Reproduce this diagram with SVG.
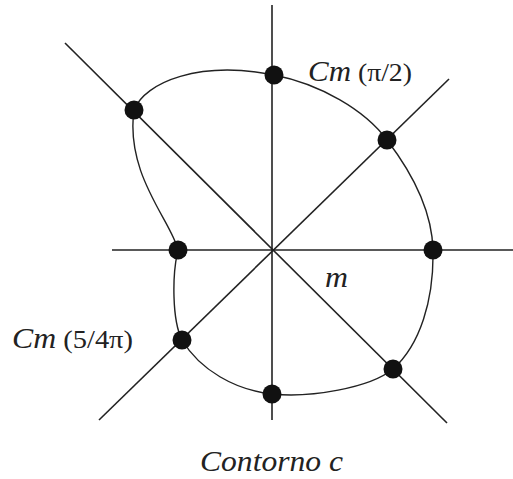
<svg xmlns="http://www.w3.org/2000/svg" width="513" height="479" viewBox="0 0 513 479">
<style>
.ax{stroke:#222;stroke-width:1.6;fill:none}
.cv{stroke:#222;stroke-width:1.4;fill:none}
.dot{fill:#111}
.t{font-family:"Liberation Serif",serif;fill:#222}
.i{font-style:italic}
</style>
<rect width="513" height="479" fill="#fff"/>
<g id="connectors">
<line class="ax" x1="272" y1="5" x2="272" y2="420"/>
<line class="ax" x1="112" y1="250" x2="513" y2="250"/>
<line class="ax" x1="65" y1="43" x2="447" y2="423"/>
<line class="ax" x1="449" y1="79" x2="99" y2="420"/>
<path id="contour" class="cv" d="M134,110 C145,82 200,60 274,75 C320,84 365,110 387,140 C410,170 432,210 433,250 C434,300 420,345 393,369 C370,388 310,398 272,394 C235,390 200,370 182,340 C172,320 172,275 178,250 C172,222 125,175 134,110 Z"/>
</g>
<g id="n_top"><circle class="dot" cx="274" cy="75" r="9.5"/></g>
<g id="n_nw"><circle class="dot" cx="134" cy="110" r="9.5"/></g>
<g id="n_ne"><circle class="dot" cx="387" cy="140" r="9.5"/></g>
<g id="n_w"><circle class="dot" cx="178" cy="250" r="9.5"/></g>
<g id="n_e"><circle class="dot" cx="433" cy="250" r="9.5"/></g>
<g id="n_sw"><circle class="dot" cx="182" cy="340" r="9.5"/></g>
<g id="n_se"><circle class="dot" cx="393" cy="369" r="9.5"/></g>
<g id="n_s"><circle class="dot" cx="272" cy="394" r="9.5"/></g>
<g id="labels">
<text class="t" x="308" y="81" font-size="26" textLength="104" lengthAdjust="spacingAndGlyphs"><tspan class="i" font-size="29">Cm</tspan> (π/2)</text>
<text class="t" x="12" y="348" font-size="26" textLength="121" lengthAdjust="spacingAndGlyphs"><tspan class="i" font-size="29">Cm</tspan> (5/4π)</text>
<text class="t i" x="325" y="287" font-size="30" textLength="23" lengthAdjust="spacingAndGlyphs">m</text>
<text class="t i" x="200" y="471" font-size="29" textLength="143" lengthAdjust="spacingAndGlyphs">Contorno c</text>
</g>
</svg>
